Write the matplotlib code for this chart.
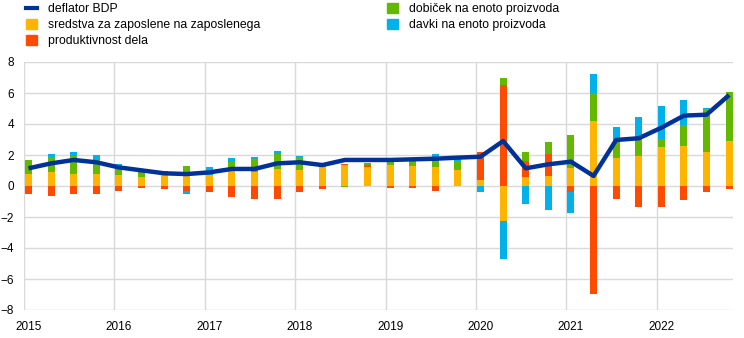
import matplotlib
matplotlib.use("Agg")
import matplotlib.pyplot as plt
import numpy as np
from matplotlib.lines import Line2D
from matplotlib.patches import Patch

plt.rcParams['font.family'] = ['Liberation Sans', 'DejaVu Sans']

years = ["2015", "2016", "2017", "2018", "2019", "2020", "2021", "2022"]

deflator = [1.14, 1.46, 1.68, 1.53, 1.20, 1.01, 0.82, 0.77, 0.88, 1.10,
            1.10, 1.46, 1.53, 1.35, 1.68, 1.68, 1.68, 1.72, 1.76, 1.83,
            1.89, 2.90, 1.14, 1.40, 1.57, 0.65, 2.97, 3.08, 3.76, 4.54,
            4.60, 5.87]

compensation = [0.77, 0.88, 0.77, 0.77, 0.73, 0.58, 0.70, 0.65, 0.71, 1.03,
                0.92, 1.10, 1.03, 1.23, 1.35, 1.23, 1.33, 1.29, 1.25, 1.03,
                0.39, -2.28, 0.58, 0.65, 1.14, 4.22, 1.78, 1.96, 2.54, 2.58,
                2.21, 2.88]

productivity = [-0.52, -0.65, -0.54, -0.50, -0.34, -0.10, -0.20, -0.32, -0.37, -0.69,
                -0.82, -0.84, -0.41, -0.22, 0.10, 0.15, -0.15, -0.10, -0.33, 0.00,
                1.80, 6.54, 1.05, 1.39, -0.41, -6.95, -0.86, -1.33, -1.38, -0.92,
                -0.39, -0.19]

profits = [0.91, 0.97, 1.19, 0.93, 0.58, 0.32, 0.00, 0.64, 0.00, 0.54,
           0.82, 0.99, 0.82, 0.10, -0.05, 0.05, 0.24, 0.39, 0.39, 0.60,
           0.00, 0.45, 0.58, 0.82, 2.17, 1.76, 1.14, 1.12, 0.47, 1.36,
           2.74, 3.16]

taxes = [0.00, 0.20, 0.21, 0.30, 0.13, 0.00, 0.25, -0.20, 0.50, 0.23,
         0.13, 0.17, 0.09, 0.10, 0.00, 0.08, 0.00, 0.00, 0.40, 0.09,
         -0.41, -2.43, -1.18, -1.53, -1.35, 1.27, 0.89, 1.37, 2.13, 1.59,
         0.06, 0.00]

labels = ["deflator BDP", "sredstva za zaposlene na zaposlenega", "produktivnost dela",
          "dobiček na enoto proizvoda", "davki na enoto proizvoda"]
colors = {"line": "#003299", "comp": "#FFB400", "prod": "#FF4B00",
          "prof": "#65B800", "tax": "#00B1EA"}

W, H = 744, 338
fig = plt.figure(figsize=(W / 100, H / 100), dpi=100)
ax = fig.add_axes([24 / W, 1 - 310 / H, (733 - 24) / W, (310 - 62) / H])

n = len(deflator)
x = np.arange(n)
bw = 0.31
series = [(compensation, colors["comp"]), (productivity, colors["prod"]),
          (profits, colors["prof"]), (taxes, colors["tax"])]
pos_base = np.zeros(n)
neg_base = np.zeros(n)
for vals, c in series:
    v = np.array(vals)
    p = np.where(v > 0, v, 0)
    m = np.where(v < 0, v, 0)
    ax.bar(x, p, bw, bottom=pos_base, color=c, linewidth=0, zorder=2)
    ax.bar(x, m, bw, bottom=neg_base, color=c, linewidth=0, zorder=2)
    pos_base += p
    neg_base += m

ax.plot(x, deflator, color=colors["line"], lw=3.2, zorder=3, solid_capstyle='butt',
        solid_joinstyle='round')

ax.set_ylim(-8, 8)
ax.set_yticks(np.arange(-8, 9, 2))
ax.set_xlim(-0.2, 31.17)
ax.set_xticks(np.arange(0, 32, 4))
ax.set_xticklabels(years)
ax.set_xticks(np.arange(0, 32, 4) - 0.2, minor=True)
ax.tick_params(axis='both', which='both', length=0, labelsize=8.5, colors='black')
ax.tick_params(axis='y', pad=7)
ax.tick_params(axis='x', pad=8)
ax.grid(axis='y', color='#d9d9d9', lw=1, zorder=0)
ax.grid(axis='x', which='minor', color='#d9d9d9', lw=1, zorder=0)
ax.grid(axis='x', which='major', visible=False)
for s in ax.spines.values():
    s.set_visible(False)

h_line = Line2D([0], [0], color=colors["line"], lw=3)
handles = [h_line, Patch(color=colors["comp"]), Patch(color=colors["prod"]),
           Patch(color=colors["prof"]), Patch(color=colors["tax"])]
fig.legend(handles, labels, loc='upper left', bbox_to_anchor=(21 / W, 1 + 2 / H),
           ncol=2, frameon=False, fontsize=8.8, handlelength=0.9, handleheight=0.9,
           handletextpad=0.9, columnspacing=10.4, labelspacing=0.3, borderaxespad=0)

fig.savefig("out.png", dpi=100)
